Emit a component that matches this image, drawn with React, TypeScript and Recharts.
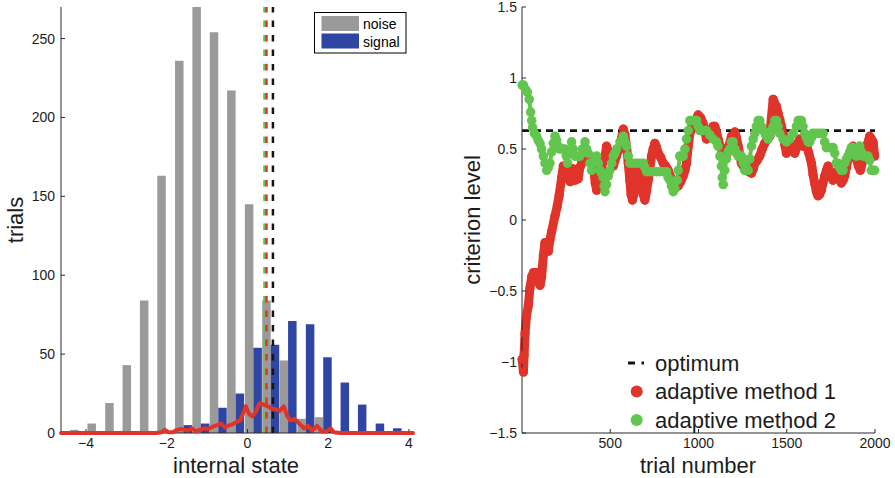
import React from 'react';
import { ComposedChart, Bar, Line, XAxis, YAxis, ReferenceLine, Legend } from 'recharts';

const FONT = '"Liberation Sans", Arial, Helvetica, sans-serif';
const INK = '#1c1c1c';
const AXIS_COLOR = '#2b2b2b';
const NOISE_COLOR = '#9a9a9a';
const SIGNAL_COLOR = '#2f45a3';
const METHOD1_COLOR = '#e0342a';
const METHOD2_COLOR = '#62c54e';
const OPTIMUM_COLOR = '#141414';

// ---- histogram of the internal state ----
const binCenters = [-4.18, -3.75, -3.31, -2.88, -2.45, -2.02, -1.58, -1.15, -0.72, -0.29, 0.15, 0.58, 1.01, 1.45, 1.88, 2.31, 2.74, 3.18, 3.61, 4.04];
const noiseTrials = [2, 6, 19, 43, 84, 163, 236, 270, 254, 217, 145, 84, 46, 9, 10, 0, 0, 0, 0, 0];
const signalTrials = [0, 0, 0, 0, 0, 0, 5, 6, 16, 25, 54, 56, 71, 69, 48, 32, 18, 6, 3, 1];

// where adaptive method 1 placed its criterion (count per internal state)
const criterionStates = [-4.62, -2.25, -2.12, -2.05, -1.97, -1.85, -1.75, -1.65, -1.55, -1.47, -1.38, -1.28, -1.18, -1.08, -0.97, -0.86, -0.75, -0.66, -0.55, -0.45, -0.37, -0.27, -0.18, -0.1, -0.04, 0.04, 0.12, 0.2, 0.3, 0.4, 0.5, 0.6, 0.7, 0.8, 0.9, 0.98, 1.06, 1.16, 1.28, 1.4, 1.5, 1.6, 1.72, 1.84, 1.96, 2.06, 2.14, 2.3, 4.1];
const criterionCounts = [0, 0, 0.5, 2, 0.5, 0.5, 2, 2.5, 2, 1.5, 3, 1, 2, 3, 2.5, 4, 5, 6, 3.5, 5, 5.5, 7, 8, 13, 17, 12, 10.5, 13, 19, 18, 17, 15.5, 15, 14, 17, 11, 8, 9, 6, 3, 4.5, 1.5, 4.5, 1, 1, 3, 0.5, 0, 0];

const stateTicks = [-4, -2, 0, 2, 4];
const trialCountTicks = [0, 50, 100, 150, 200, 250];
const histLegendOrder = ['noise', 'signal'];

const OPTIMUM = 0.63;
const METHOD1_MEAN = 0.47;
const METHOD2_MEAN = 0.42;

// ---- criterion level over trials: [trial number, criterion level] ----
const method1Path: [number, number][] = [
  [1, -0.98], [8, -1.07], [12, -0.95], [17, -0.8], [25, -0.68], [36, -0.6], [45, -0.48], [55, -0.4], [65, -0.37], [80, -0.37],
  [92, -0.43], [102, -0.46], [111, -0.4], [121, -0.25], [130, -0.16], [140, -0.16], [149, -0.22], [158, -0.14], [168, -0.08], [187, 0.03],
  [200, 0.1], [210, 0.17], [225, 0.3], [234, 0.38], [245, 0.38], [253, 0.3], [265, 0.37], [273, 0.27], [281, 0.3], [290, 0.36],
  [300, 0.28], [309, 0.33], [318, 0.29], [328, 0.37], [338, 0.4], [352, 0.44], [366, 0.45], [385, 0.45], [404, 0.38], [415, 0.26],
  [423, 0.21], [432, 0.25], [442, 0.31], [456, 0.4], [470, 0.45], [479, 0.52], [490, 0.48], [498, 0.45], [508, 0.41], [517, 0.38],
  [535, 0.45], [555, 0.52], [565, 0.58], [574, 0.64], [583, 0.6], [592, 0.52], [602, 0.4], [611, 0.28], [618, 0.18], [626, 0.14],
  [633, 0.18], [640, 0.24], [649, 0.32], [658, 0.38], [668, 0.3], [677, 0.24], [687, 0.18], [696, 0.14], [705, 0.2], [715, 0.28],
  [724, 0.36], [734, 0.45], [743, 0.5], [753, 0.54], [762, 0.51], [772, 0.47], [786, 0.44], [800, 0.4], [814, 0.38], [828, 0.35],
  [843, 0.3], [857, 0.26], [871, 0.24], [885, 0.24], [899, 0.27], [913, 0.31], [923, 0.35], [932, 0.4], [942, 0.52], [951, 0.61],
  [961, 0.64], [970, 0.66], [984, 0.7], [998, 0.74], [1012, 0.72], [1026, 0.68], [1036, 0.62], [1045, 0.57], [1060, 0.6], [1074, 0.64],
  [1083, 0.66], [1092, 0.66], [1102, 0.62], [1111, 0.57], [1125, 0.51], [1140, 0.45], [1158, 0.45], [1172, 0.52], [1187, 0.59], [1206, 0.62],
  [1215, 0.58], [1225, 0.52], [1234, 0.46], [1243, 0.4], [1258, 0.37], [1272, 0.35], [1286, 0.34], [1300, 0.33], [1310, 0.36], [1319, 0.4],
  [1333, 0.42], [1347, 0.45], [1361, 0.5], [1375, 0.54], [1390, 0.57], [1404, 0.59], [1413, 0.72], [1423, 0.85], [1432, 0.82], [1442, 0.8],
  [1451, 0.75], [1460, 0.71], [1470, 0.66], [1479, 0.61], [1489, 0.53], [1498, 0.47], [1512, 0.5], [1526, 0.54], [1536, 0.5], [1545, 0.47],
  [1560, 0.52], [1574, 0.57], [1583, 0.54], [1592, 0.52], [1602, 0.53], [1611, 0.54], [1625, 0.47], [1640, 0.4], [1649, 0.32], [1658, 0.26],
  [1668, 0.2], [1677, 0.17], [1686, 0.18], [1696, 0.21], [1705, 0.26], [1715, 0.31], [1725, 0.35], [1734, 0.38], [1748, 0.33], [1762, 0.28],
  [1776, 0.32], [1791, 0.35], [1800, 0.3], [1809, 0.26], [1819, 0.28], [1828, 0.31], [1838, 0.37], [1847, 0.43], [1861, 0.48], [1875, 0.52],
  [1885, 0.47], [1894, 0.43], [1906, 0.38], [1917, 0.35], [1930, 0.41], [1942, 0.47], [1956, 0.53], [1970, 0.59], [1980, 0.57], [1989, 0.55],
  [1998, 0.45],
];

const method2Path: [number, number][] = [
  [1, 0.95], [8, 0.95], [20, 0.92], [30, 0.9], [41, 0.85], [49, 0.76], [55, 0.7], [60, 0.65], [70, 0.61], [83, 0.59],
  [92, 0.56], [102, 0.54], [111, 0.5], [121, 0.45], [130, 0.4], [140, 0.35], [149, 0.37], [158, 0.4], [168, 0.48], [177, 0.54],
  [187, 0.59], [196, 0.56], [205, 0.52], [215, 0.5], [230, 0.5], [243, 0.5], [251, 0.45], [258, 0.4], [268, 0.47], [281, 0.55],
  [290, 0.5], [300, 0.45], [314, 0.45], [328, 0.45], [343, 0.5], [357, 0.55], [366, 0.5], [375, 0.47], [385, 0.4], [394, 0.35],
  [404, 0.4], [413, 0.43], [423, 0.45], [432, 0.4], [442, 0.35], [451, 0.33], [460, 0.3], [466, 0.24], [470, 0.2], [479, 0.25],
  [489, 0.31], [498, 0.35], [508, 0.4], [517, 0.45], [526, 0.47], [536, 0.5], [555, 0.55], [574, 0.59], [583, 0.55], [592, 0.52],
  [602, 0.45], [611, 0.4], [630, 0.4], [649, 0.4], [668, 0.4], [687, 0.4], [696, 0.37], [706, 0.34], [725, 0.34], [743, 0.34],
  [762, 0.34], [781, 0.34], [800, 0.34], [819, 0.34], [828, 0.3], [838, 0.28], [847, 0.24], [857, 0.2], [866, 0.22], [879, 0.28],
  [885, 0.35], [894, 0.45], [904, 0.45], [913, 0.45], [923, 0.5], [932, 0.57], [942, 0.63], [951, 0.7], [961, 0.7], [970, 0.7],
  [980, 0.7], [989, 0.7], [998, 0.66], [1008, 0.63], [1026, 0.63], [1045, 0.63], [1064, 0.6], [1083, 0.57], [1102, 0.55], [1111, 0.52],
  [1121, 0.45], [1130, 0.38], [1135, 0.3], [1140, 0.25], [1149, 0.35], [1158, 0.43], [1168, 0.48], [1177, 0.5], [1187, 0.55], [1196, 0.55],
  [1206, 0.5], [1215, 0.47], [1225, 0.45], [1243, 0.45], [1253, 0.4], [1262, 0.35], [1281, 0.35], [1290, 0.43], [1300, 0.52], [1310, 0.57],
  [1319, 0.61], [1328, 0.66], [1338, 0.7], [1347, 0.7], [1356, 0.66], [1366, 0.63], [1380, 0.6], [1394, 0.57], [1404, 0.6], [1413, 0.63],
  [1423, 0.66], [1432, 0.7], [1442, 0.7], [1451, 0.66], [1460, 0.61], [1479, 0.57], [1498, 0.55], [1517, 0.57], [1536, 0.61], [1555, 0.66],
  [1565, 0.7], [1574, 0.7], [1583, 0.7], [1592, 0.66], [1602, 0.61], [1611, 0.58], [1621, 0.55], [1630, 0.55], [1640, 0.58], [1649, 0.61],
  [1668, 0.61], [1687, 0.61], [1706, 0.61], [1715, 0.55], [1725, 0.51], [1743, 0.51], [1762, 0.51], [1772, 0.47], [1781, 0.4], [1790, 0.4],
  [1800, 0.37], [1809, 0.35], [1819, 0.35], [1828, 0.4], [1838, 0.43], [1847, 0.45], [1857, 0.48], [1866, 0.51], [1875, 0.51], [1885, 0.48],
  [1894, 0.45], [1904, 0.48], [1913, 0.52], [1923, 0.48], [1932, 0.45], [1942, 0.45], [1951, 0.45], [1960, 0.45], [1970, 0.42], [1979, 0.35],
  [1989, 0.35], [1998, 0.35],
];

const trialNumberTicks = [500, 1000, 1500, 2000];
const levelTicks = [-1.5, -1, -0.5, 0, 0.5, 1, 1.5];
const trajectoryLegendOrder = ['optimum', 'adaptive method 1', 'adaptive method 2'];

// series tables for the charts
const histData = binCenters.map((x, i) => ({ x, noise: noiseTrials[i], signal: signalTrials[i] }));
const criterionData = criterionStates.map((x, i) => ({ x, count: criterionCounts[i] }));
const method1Data = method1Path.map(([t, level]) => ({ t, level }));
const method2Data = method2Path.map(([t, level]) => ({ t, level }));
const optimumData = [{ t: 0, level: OPTIMUM }, { t: 2000, level: OPTIMUM }];

const withMinus = (v: number) => String(v).replace('-', '\u2212');

const tickStyle = { fill: INK, fontSize: 14, fontFamily: FONT };

const HEIGHT = 478;
const AXIS_W = 40;
const AXIS_H = 30;
const STATE_DOMAIN: [number, number] = [-4.62, 4.1];
// the criterion curve sits on the baseline, so draw it above the axis line
const ABOVE_AXES = 650;

const VerticalTitle = ({ text, baseX, centerY }: { text: string; baseX: number; centerY: number }) => (
  <text
    x={baseX}
    y={centerY}
    transform={`rotate(-90 ${baseX} ${centerY})`}
    textAnchor="middle"
    fontSize={22}
    fontFamily={FONT}
    fill={INK}
  >
    {text}
  </text>
);

const HorizontalTitle = ({ text, centerX, baseY }: { text: string; centerX: number; baseY: number }) => (
  <text x={centerX} y={baseY} textAnchor="middle" fontSize={22} fontFamily={FONT} fill={INK}>
    {text}
  </text>
);

const HistLegend = (props: any) => {
  const payload = props.payload || [];
  const items = histLegendOrder
    .map((name) => payload.find((p: any) => p.value === name))
    .filter(Boolean);
  return (
    <svg width={93} height={42} style={{ display: 'block' }}>
      <rect x={0.5} y={0.5} width={91.5} height={40.5} fill="#fff" stroke="#000" strokeWidth={1} />
      {items.map((it: any, i: number) => (
        <g key={it.value}>
          <rect x={7.5} y={4 + i * 17.5} width={37.5} height={15} fill={it.color} />
          <text x={49} y={12 + i * 17.5} dominantBaseline="central" fontSize={14} fontFamily={FONT} fill="#000">
            {it.value}
          </text>
        </g>
      ))}
    </svg>
  );
};

const TrajectoryLegend = (props: any) => {
  const payload = props.payload || [];
  const rows = trajectoryLegendOrder
    .map((name) => payload.find((p: any) => p.value === name))
    .filter(Boolean);
  return (
    <svg width={240} height={90} style={{ display: 'block' }}>
      {rows.map((p: any, i: number) => {
        const cy = 15 + i * 28.5;
        return (
          <g key={p.value}>
            {p.value === 'optimum' ? (
              <line x1={8} x2={24} y1={cy} y2={cy} stroke={p.color} strokeWidth={3} strokeDasharray="7 6.5" />
            ) : (
              <circle cx={16.7} cy={cy} r={6} fill={p.color} />
            )}
            <text x={35} y={cy} dominantBaseline="central" fontSize={22} fontFamily={FONT} fill={INK}>
              {p.value}
            </text>
          </g>
        );
      })}
    </svg>
  );
};

function HistogramPanel() {
  const width = 420;
  const margin = { top: 7, right: 7, bottom: HEIGHT - 433 - AXIS_H, left: 61 - AXIS_W };
  return (
    <ComposedChart width={width} height={HEIGHT} data={histData} margin={margin} barGap={0}>
      <XAxis
        type="number"
        dataKey="x"
        domain={STATE_DOMAIN}
        allowDataOverflow
        ticks={stateTicks}
        interval={0}
        tickFormatter={withMinus}
        tick={tickStyle}
        tickSize={-4}
        tickMargin={9}
        height={AXIS_H}
        axisLine={{ stroke: AXIS_COLOR }}
        tickLine={{ stroke: AXIS_COLOR }}
        label={{ content: () => <HorizontalTitle text="internal state" centerX={236} baseY={473} /> }}
      />
      {/* separate, hidden axis for the criterion curve so its dense points don't narrow the bars */}
      <XAxis xAxisId="curve" type="number" dataKey="x" domain={STATE_DOMAIN} hide />
      <YAxis
        type="number"
        domain={[0, 270]}
        ticks={trialCountTicks}
        interval={0}
        tickFormatter={withMinus}
        tick={tickStyle}
        tickSize={-4}
        tickMargin={10}
        width={AXIS_W}
        axisLine={{ stroke: AXIS_COLOR }}
        tickLine={{ stroke: AXIS_COLOR }}
        label={{ content: () => <VerticalTitle text="trials" baseX={23} centerY={220} /> }}
      />
      <Bar dataKey="noise" name="noise" fill={NOISE_COLOR} barSize={8.5} isAnimationActive={false} />
      <Bar dataKey="signal" name="signal" fill={SIGNAL_COLOR} barSize={8.5} isAnimationActive={false} />
      <ReferenceLine x={METHOD2_MEAN} stroke={METHOD2_COLOR} strokeWidth={2.5} strokeDasharray="6.5 8" />
      <ReferenceLine x={METHOD1_MEAN} stroke={METHOD1_COLOR} strokeWidth={2.5} strokeDasharray="6.5 8" />
      <ReferenceLine x={OPTIMUM} stroke={OPTIMUM_COLOR} strokeWidth={2.5} strokeDasharray="6.5 8" />
      <Line
        xAxisId="curve"
        data={criterionData}
        dataKey="count"
        name="criterion"
        stroke={METHOD1_COLOR}
        strokeWidth={4}
        strokeLinejoin="round"
        strokeLinecap="round"
        dot={false}
        legendType="none"
        zIndex={ABOVE_AXES}
        isAnimationActive={false}
      />
      <Legend
        content={HistLegend}
        layout="vertical"
        align="center"
        verticalAlign="middle"
        wrapperStyle={{ left: 314, top: 12, width: 93, height: 42 }}
      />
    </ComposedChart>
  );
}

function TrajectoryPanel() {
  const width = 455;
  const margin = { top: 7, right: 20, bottom: HEIGHT - 433 - AXIS_H, left: 82 - AXIS_W };
  return (
    <ComposedChart width={width} height={HEIGHT} margin={margin}>
      <XAxis
        type="number"
        dataKey="t"
        domain={[0, 2000]}
        ticks={trialNumberTicks}
        interval={0}
        tick={tickStyle}
        tickSize={-4}
        tickMargin={9}
        height={AXIS_H}
        axisLine={{ stroke: AXIS_COLOR }}
        tickLine={{ stroke: AXIS_COLOR }}
        label={{ content: () => <HorizontalTitle text="trial number" centerX={258} baseY={473} /> }}
      />
      <YAxis
        type="number"
        dataKey="level"
        domain={[-1.5, 1.5]}
        ticks={levelTicks}
        interval={0}
        tickFormatter={withMinus}
        tick={tickStyle}
        tickSize={-4}
        tickMargin={9}
        width={AXIS_W}
        axisLine={{ stroke: AXIS_COLOR }}
        tickLine={{ stroke: AXIS_COLOR }}
        label={{ content: () => <VerticalTitle text="criterion level" baseX={40} centerY={220} /> }}
      />
      <Line
        data={method1Data}
        dataKey="level"
        name="adaptive method 1"
        stroke={METHOD1_COLOR}
        strokeWidth={9}
        strokeLinejoin="round"
        strokeLinecap="round"
        dot={{ r: 4.6, fill: METHOD1_COLOR, stroke: 'none' }}
        isAnimationActive={false}
      />
      <Line
        data={method2Data}
        dataKey="level"
        name="adaptive method 2"
        stroke={METHOD2_COLOR}
        strokeWidth={4}
        strokeLinejoin="round"
        strokeLinecap="round"
        dot={{ r: 4.8, fill: METHOD2_COLOR, stroke: 'none' }}
        isAnimationActive={false}
      />
      <Line
        data={optimumData}
        dataKey="level"
        name="optimum"
        stroke={OPTIMUM_COLOR}
        strokeWidth={2.8}
        strokeDasharray="7 5"
        dot={false}
        isAnimationActive={false}
      />
      <Legend
        content={TrajectoryLegend}
        layout="vertical"
        align="center"
        verticalAlign="middle"
        wrapperStyle={{ left: 180, top: 348, width: 240, height: 90 }}
      />
    </ComposedChart>
  );
}

export default function App() {
  return (
    <div style={{ position: 'absolute', left: 0, top: 0, width: 895, height: HEIGHT, background: '#fff', fontFamily: FONT }}>
      <div style={{ position: 'absolute', left: 0, top: 0 }}>
        <HistogramPanel />
      </div>
      <div style={{ position: 'absolute', left: 440, top: 0 }}>
        <TrajectoryPanel />
      </div>
    </div>
  );
}
